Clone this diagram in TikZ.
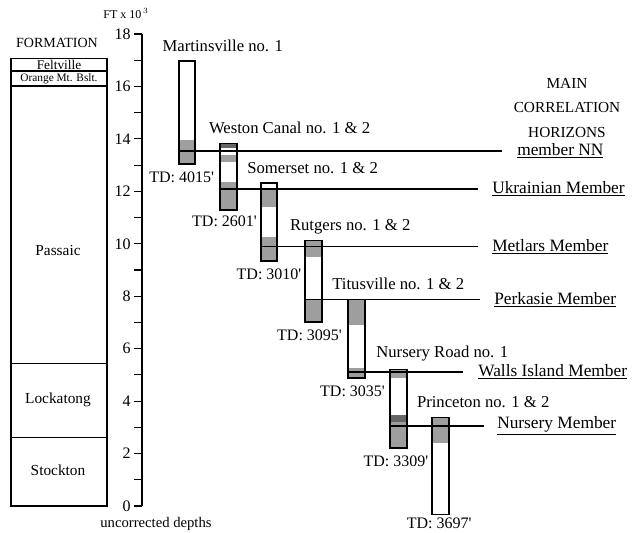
\documentclass[tikz,border=0pt]{standalone}
\usepackage{fontspec}
\setmainfont{Liberation Serif}
\usetikzlibrary{positioning, fit, calc}
\tikzset{
  well/.style={draw, line width=0.9pt, inner sep=0pt},
  core/.style={fill=black!38},
  darkcore/.style={fill=black!60},
  wellname/.style={font=\fontsize{12.5}{14}\selectfont, inner sep=0pt, anchor=base west},
  tdlabel/.style={font=\fontsize{12}{14}\selectfont, inner sep=0pt},
  horizon/.style={line width=0.8pt},
  member/.style={font=\fontsize{13}{15}\selectfont, anchor=west, inner sep=0pt},
  tick/.style={line width=0.8pt},
  formation/.style={draw, line width=0.8pt},
  formlabel/.style={font=\fontsize{11.5}{13}\selectfont, inner sep=0pt},
}

\begin{document}
\begin{tikzpicture}[x=0.75pt, y=19.665pt]
  \useasboundingbox (0,-0.992) rectangle (634,19.298);

  % depth scale
  \draw[tick] (142,0) -- (142,18);
  \foreach \d in {0,1,...,18} \draw[tick] (134,\d) -- (142,\d);
  \foreach \d in {0,2,...,18}
    \node[anchor=east, inner sep=0pt, font=\fontsize{12}{14}\selectfont] (tk\d) at (131,\d) {\d};
  \node[inner sep=0pt, font=\fontsize{9}{10}\selectfont] (unit) at (126,18.80) {FT x 10$^{\,3}$};
  \node[inner sep=0pt, font=\fontsize{11}{13}\selectfont] (depths) at (156,-0.69) {uncorrected depths};

  % formation column
  \node[inner sep=0pt, font=\fontsize{10.5}{12}\selectfont] (formhead) at (57,17.66) {FORMATION};
  \draw[formation] (11,0) rectangle (107,17.05);
  \draw[formation] (11,16.59) -- (107,16.59);
  \draw[formation, line width=1.5pt] (11,16.02) -- (107,16.02);
  \draw[formation] (11,5.42) -- (107,5.42);
  \draw[formation] (11,2.63) -- (107,2.63);
  \node[inner sep=0pt, font=\fontsize{10}{11}\selectfont] (feltville) at (59,16.83) {Feltville};
  \node[inner sep=0pt, font=\fontsize{8.5}{9}\selectfont] (orange) at (59,16.31) {Orange Mt. Bslt.};
  \node[formlabel] (passaic) at (58,9.76) {Passaic};
  \node[formlabel] (lockatong) at (58,4.04) {Lockatong};
  \node[formlabel] (stockton) at (58,1.35) {Stockton};

  % core shading
  \fill[core] (179,13.96) rectangle (195,13.04);
  \fill[darkcore] (220,13.84) rectangle (237,13.65);
  \fill[core] (220,13.39) rectangle (237,13.12);
  \fill[core] (220,12.36) rectangle (237,11.29);
  \fill[core] (261,12.13) rectangle (277,11.40);
  \fill[core] (261,10.26) rectangle (277,9.34);
  \fill[core] (305,10.14) rectangle (322,9.50);
  \fill[core] (305,7.86) rectangle (322,7.02);
  \fill[core] (348,7.89) rectangle (365,6.90);
  \fill[core] (348,5.26) rectangle (365,4.88);
  \fill[core] (390,5.22) rectangle (407,4.88);
  \fill[darkcore] (390,3.47) rectangle (407,3.20);
  \fill[core] (390,3.20) rectangle (407,2.21);
  \fill[core] (432,3.39) rectangle (449,2.40);

  % wells
  \node[well, fit={(179,16.97) (195,13.04)}] (mart) {};
  \node[well, fit={(220,13.84) (237,11.29)}] (weston) {};
  \node[well, fit={(261,12.32) (277,9.34)}] (somerset) {};
  \node[well, fit={(305,10.14) (322,7.02)}] (rutgers) {};
  \node[well, fit={(348,7.89) (365,4.88)}] (titus) {};
  \node[well, fit={(390,5.22) (407,2.21)}] (nursery) {};
  \node[well, fit={(432,3.39) (449,-0.31)}] (princeton) {};

  % well names
  \node[wellname] (martname) at ([xshift=-12pt, yshift=6.5pt]mart.north west) {Martinsville no. 1};
  \node[wellname] (westonname) at ([xshift=-8pt, yshift=6.5pt]weston.north west) {Weston Canal no. 1 \& 2};
  \node[wellname] (somersetname) at ([xshift=-10pt, yshift=6.5pt]somerset.north west) {Somerset no. 1 \& 2};
  \node[wellname] (rutgersname) at ([xshift=-11pt, yshift=6.5pt]rutgers.north west) {Rutgers no. 1 \& 2};
  \node[wellname] (titusname) at ([xshift=-11.5pt, yshift=6.5pt]titus.north west) {Titusville no. 1 \& 2};
  \node[wellname] (nurseryname) at ([xshift=-10pt, yshift=8pt]nursery.north west) {Nursery Road no. 1};
  \node[wellname] (princetonname) at ([xshift=-11pt, yshift=6.5pt]princeton.north west) {Princeton no. 1 \& 2};

  % total depths
  \node[tdlabel, below=5pt of mart.south, xshift=-4pt] (martTD) {TD: 4015\textquotesingle};
  \node[tdlabel, below=4pt of weston.south, xshift=-3pt] (westonTD) {TD: 2601\textquotesingle};
  \node[tdlabel, below=5pt of somerset.south] (somersetTD) {TD: 3010\textquotesingle};
  \node[tdlabel, below=5pt of rutgers.south, xshift=-3pt] (rutgersTD) {TD: 3095\textquotesingle};
  \node[tdlabel, below=5pt of titus.south, xshift=-3pt] (titusTD) {TD: 3035\textquotesingle};
  \node[tdlabel, below=5pt of nursery.south, xshift=-2pt] (nurseryTD) {TD: 3309\textquotesingle};
  \node[tdlabel, below=2.5pt of princeton.south, xshift=-1pt] (princetonTD) {TD: 3697\textquotesingle};

  % correlation horizons
  \node[align=center, inner sep=0pt, font=\fontsize{11.5}{18.5}\selectfont] (mainhead) at (567,15.18)
    {MAIN\\CORRELATION\\HORIZONS};
  \coordinate (hNN) at (179,13.54);
  \coordinate (hUkr) at (220,12.09);
  \coordinate (hMet) at (261,9.88);
  \coordinate (hPerk) at (305,7.86);
  \coordinate (hWalls) at (348,5.11);
  \coordinate (hNurs) at (390,3.05);
  \node[member] (lNN) at (517,13.54) {\underline{member NN}};
  \node[member] (lUkr) at (492,12.09) {\underline{Ukrainian Member}};
  \node[member] (lMet) at (492,9.88) {\underline{Metlars Member}};
  \node[member] (lPerk) at (494,7.86) {\underline{Perkasie Member}};
  \node[member] (lWalls) at (478,5.11) {\underline{Walls Island Member}};
  \node[member] (lNurs) at (497,3.05) {\underline{Nursery Member}};
  \draw[horizon] (hNN) -- ([xshift=-11pt]lNN.west);
  \draw[horizon] (hUkr) -- ([xshift=-10.5pt]lUkr.west);
  \draw[horizon] (hMet) -- ([xshift=-10.5pt]lMet.west);
  \draw[horizon] (hPerk) -- ([xshift=-10.5pt]lPerk.west);
  \draw[horizon] (hWalls) -- ([xshift=-11pt]lWalls.west);
  \draw[horizon] (hNurs) -- ([xshift=-10pt]lNurs.west);
\end{tikzpicture}
\end{document}
